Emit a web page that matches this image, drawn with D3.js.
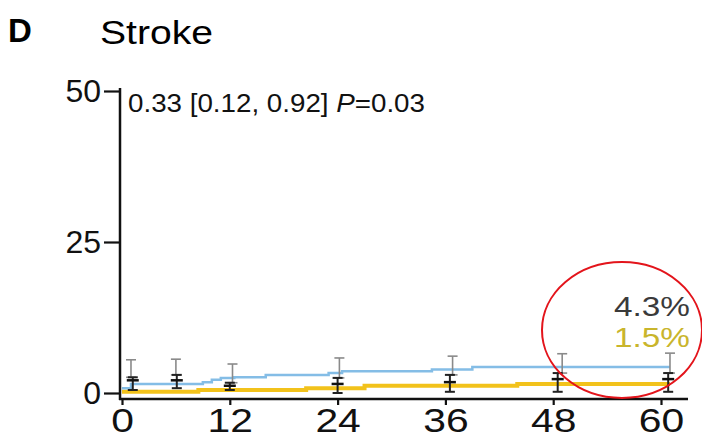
<!DOCTYPE html>
<html><head><meta charset="utf-8">
<script src="https://cdn.jsdelivr.net/npm/d3@7"></script>
<style>body{margin:0;background:#fff}svg{display:block}text{font-family:"Liberation Sans",Arial,sans-serif}</style>
</head><body><svg id="c" width="702" height="440"></svg>
<script>
const xTicks = [0, 12, 24, 36, 48, 60];
const yTicks = [0, 25, 50];
// blue (control) cumulative incidence step curve, months / %
const blueMonths = [0, 1, 9, 10, 11, 12.5, 16, 23, 24.5, 34.5, 39, 61];
const blueValues = [0.8, 1.5, 1.8, 2.2, 2.5, 2.6, 3.0, 3.3, 3.6, 3.9, 4.3, 4.3];
// yellow (treatment) step curve
const yellowMonths = [0, 8.5, 20.5, 27, 44, 61];
const yellowValues = [0.2, 0.5, 0.8, 1.2, 1.5, 1.5];
// error bars
const grayMonths = [1, 6, 12.3, 24.2, 36.8, 49, 61];
const grayUpper = [5.5, 5.6, 4.8, 5.8, 6.1, 6.5, 6.6];
const grayLower = [2.6, 3.0, 1.7, 2.5, 3.0, 3.3, 3.3];
const blackMonths = [1.2, 6.1, 12, 24, 36.5, 48.5, 60.8];
const blackUpper = [2.6, 3.0, 1.7, 2.5, 3.0, 3.3, 3.3];
const blackMid = [2.1, 2.1, 1.2, 1.5, 1.8, 2.3, 2.3];
const blackLower = [0.5, 0.8, 0.5, 0.0, 0.2, 0.2, 0.2];
const finalLabels = ["4.3%", "1.5%"];
const statText = "0.33 [0.12, 0.92] ";

const svg = d3.select("#c");
const x = d3.scaleLinear().domain([0, 60]).range([122, 661]);
const y = d3.scaleLinear().domain([0, 50]).range([393, 91]);

svg.append("text").attr("x", 8).attr("y", 42).attr("font-size", 33).attr("font-weight", "bold").text("D");
svg.append("text").attr("x", 100).attr("y", 44).attr("font-size", 34)
  .attr("textLength", 113).attr("lengthAdjust", "spacingAndGlyphs").text("Stroke");

// axes
const ya = svg.append("g").attr("transform", "translate(120,0)")
  .call(d3.axisLeft(y).tickValues(yTicks).tickSize(16).tickPadding(3));
ya.select(".domain").remove();
ya.selectAll("line").attr("stroke", "#111").attr("stroke-width", 2.2);
ya.selectAll("text").attr("font-size", 32).attr("fill", "#111").attr("font-family", "Liberation Sans, Arial, sans-serif");

const xa = svg.append("g").attr("transform", "translate(0,399)")
  .call(d3.axisBottom(x).tickValues(xTicks).tickSize(6).tickPadding(3));
xa.select(".domain").remove();
xa.selectAll("line").attr("stroke", "#111").attr("stroke-width", 2.2);
xa.selectAll("text").attr("font-size", 34).attr("fill", "#111").attr("font-family", "Liberation Sans, Arial, sans-serif")
  .each(function () { const L = this.getComputedTextLength(); d3.select(this).attr("textLength", L * 1.2).attr("lengthAdjust", "spacingAndGlyphs"); });

svg.append("line").attr("x1", 120).attr("x2", 120).attr("y1", 88).attr("y2", 400).attr("stroke", "#111").attr("stroke-width", 2.5);
svg.append("line").attr("x1", 119).attr("x2", 688).attr("y1", 399).attr("y2", 399).attr("stroke", "#111").attr("stroke-width", 2.5);

const line = d3.line().x(d => x(d[0])).y(d => y(d[1])).curve(d3.curveStepAfter);
svg.append("path").datum(yellowMonths.map((m, i) => [m, yellowValues[i]]))
  .attr("d", line).attr("fill", "none").attr("stroke", "#f2c21b").attr("stroke-width", 4);
svg.append("path").datum(blueMonths.map((m, i) => [m, blueValues[i]]))
  .attr("d", line).attr("fill", "none").attr("stroke", "#84bde6").attr("stroke-width", 2.5);

function bars(months, up, lo, color, w) {
  const g = svg.append("g").attr("stroke", color).attr("stroke-width", w);
  months.forEach((m, i) => {
    const cx = x(m);
    g.append("line").attr("x1", cx).attr("x2", cx).attr("y1", y(up[i])).attr("y2", y(lo[i]));
    g.append("line").attr("x1", cx - 5).attr("x2", cx + 5).attr("y1", y(up[i])).attr("y2", y(up[i]));
    g.append("line").attr("x1", cx - 5).attr("x2", cx + 5).attr("y1", y(lo[i])).attr("y2", y(lo[i]));
  });
}
bars(grayMonths, grayUpper, grayLower, "#8a8a8a", 1.6);
bars(blackMonths, blackUpper, blackLower, "#222", 2);
svg.append("g").selectAll("line").data(blackMonths).join("line")
  .attr("x1", d => x(d) - 6).attr("x2", d => x(d) + 6)
  .attr("y1", (d, i) => y(blackMid[i])).attr("y2", (d, i) => y(blackMid[i]))
  .attr("stroke", "#111").attr("stroke-width", 2.5);

const st = svg.append("text").attr("x", 128).attr("y", 112).attr("font-size", 26).attr("fill", "#111")
  .attr("textLength", 297).attr("lengthAdjust", "spacingAndGlyphs");
st.append("tspan").text(statText);
st.append("tspan").attr("font-style", "italic").text("P");
st.append("tspan").text("=0.03");

svg.append("text").attr("x", 690).attr("y", 316).attr("text-anchor", "end").attr("font-size", 27)
  .attr("textLength", 76).attr("lengthAdjust", "spacingAndGlyphs").attr("fill", "#3a3a3a").text(finalLabels[0]);
svg.append("text").attr("x", 690).attr("y", 347).attr("text-anchor", "end").attr("font-size", 27)
  .attr("textLength", 76).attr("lengthAdjust", "spacingAndGlyphs").attr("fill", "#c9b52c").text(finalLabels[1]);

svg.append("ellipse").attr("cx", 622).attr("cy", 330).attr("rx", 80).attr("ry", 68)
  .attr("fill", "none").attr("stroke", "#e3141b").attr("stroke-width", 2);
</script></body></html>
